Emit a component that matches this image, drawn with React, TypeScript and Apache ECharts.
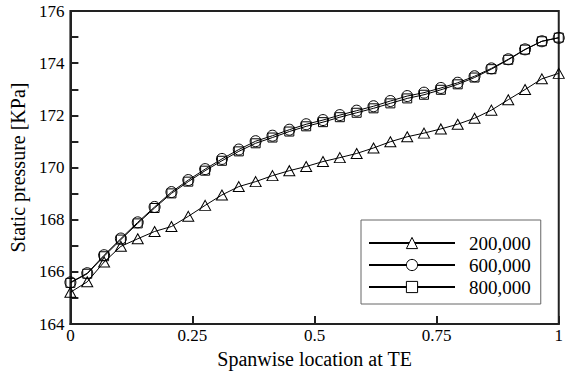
import React, { useEffect, useRef } from "react";
import * as echarts from "echarts";

const spanwise = [
  0, 0.0345, 0.069, 0.1034, 0.1379, 0.1724, 0.2069, 0.2414, 0.2759, 0.3103,
  0.3448, 0.3793, 0.4138, 0.4483, 0.4828, 0.5172, 0.5517, 0.5862, 0.6207, 0.6552,
  0.6897, 0.7241, 0.7586, 0.7931, 0.8276, 0.8621, 0.8966, 0.931, 0.9655, 1,
];

const p200k = [
  165.22, 165.62, 166.38, 166.98, 167.27, 167.55, 167.74, 168.13, 168.55, 168.95,
  169.27, 169.46, 169.69, 169.88, 170.04, 170.23, 170.38, 170.54, 170.75, 170.99,
  171.18, 171.32, 171.48, 171.66, 171.89, 172.2, 172.6, 172.99, 173.4, 173.61,
];

const p600k = [
  165.6, 165.95, 166.64, 167.28, 167.9, 168.49, 169.06, 169.52, 169.94, 170.33,
  170.69, 171.01, 171.22, 171.45, 171.66, 171.82, 172.01, 172.18, 172.35, 172.55,
  172.74, 172.87, 173.05, 173.25, 173.5, 173.8, 174.15, 174.53, 174.84, 174.97,
];

const p800k = [
  165.58, 165.93, 166.6, 167.24, 167.86, 168.45, 169.01, 169.46, 169.88, 170.26,
  170.62, 170.93, 171.15, 171.38, 171.58, 171.74, 171.93, 172.1, 172.27, 172.46,
  172.65, 172.79, 172.98, 173.19, 173.45, 173.77, 174.13, 174.52, 174.84, 174.98,
];

const seriesNames = ["200,000", "600,000", "800,000"];
const seriesSymbols = ["triangle", "circle", "rect"];
const seriesValues = [p200k, p600k, p800k];
const symbolSizes = [[11, 10], 11, 9];

const FONT = "Liberation Serif";

const hollow = { color: "rgba(255,255,255,0)", borderColor: "#000", borderWidth: 1 };
const legendHollow = { color: "#fff", borderColor: "#000", borderWidth: 1 };

export default function App() {
  const ref = useRef<HTMLDivElement>(null);
  useEffect(() => {
    if (!ref.current) return;
    const chart = echarts.init(ref.current, null, { renderer: "svg" });
    chart.setOption({
      animation: false,
      backgroundColor: "#fff",
      grid: {
        left: 68,
        right: 3,
        top: 11,
        bottom: 44.5,
        show: true,
        borderColor: "#222",
        borderWidth: 2,
      },
      xAxis: {
        type: "value",
        min: 0,
        max: 1,
        interval: 0.25,
        name: "Spanwise location at TE",
        nameLocation: "middle",
        nameGap: 21,
        nameTextStyle: { fontFamily: FONT, fontSize: 20, color: "#000" },
        axisLine: { show: true, lineStyle: { color: "#222", width: 2 } },
        axisTick: { show: true, inside: true, length: 8, lineStyle: { color: "#222", width: 2 } },
        axisLabel: { fontFamily: FONT, fontSize: 17, color: "#000", margin: 3 },
        splitLine: { show: false },
      },
      yAxis: {
        type: "value",
        min: 164,
        max: 176,
        interval: 1,
        name: "Static pressure [KPa]",
        nameLocation: "middle",
        nameGap: 42,
        nameTextStyle: { fontFamily: FONT, fontSize: 20, color: "#000" },
        axisLine: { show: true, lineStyle: { color: "#222", width: 2 } },
        axisTick: { show: true, inside: true, length: 8, lineStyle: { color: "#222", width: 2 } },
        axisLabel: {
          fontFamily: FONT,
          fontSize: 17,
          color: "#000",
          margin: 6,
          formatter: (v: number) => (Math.round(v) % 2 === 0 ? String(Math.round(v)) : ""),
        },
        splitLine: { show: false },
      },
      legend: {
        show: true,
        orient: "vertical",
        left: 361,
        top: 220,
        padding: [13, 10, 7, 7],
        itemWidth: 86,
        itemHeight: 14,
        itemGap: 2,
        backgroundColor: "#fff",
        borderColor: "#666",
        borderWidth: 1,
        borderRadius: 0,
        itemStyle: legendHollow,
        data: seriesNames.map((name) => ({ name, itemStyle: legendHollow })),
        textStyle: {
          fontFamily: FONT,
          fontSize: 19,
          color: "#000",
          lineHeight: 20,
          padding: [0, 0, 0, 9],
        },
      },
      series: seriesNames.map((name, k) => ({
        name,
        type: "line",
        data: spanwise.map((x, i) => [x, seriesValues[k][i]]),
        symbol: seriesSymbols[k],
        symbolSize: symbolSizes[k],
        showAllSymbol: true,
        clip: false,
        lineStyle: { color: "#000", width: 1 },
        itemStyle: hollow,
        emphasis: { disabled: true },
        z: 2 + k,
      })),
    });
    return () => chart.dispose();
  }, []);
  return <div ref={ref} style={{ width: 566, height: 374, position: "absolute", left: 0, top: 0 }} />;
}
